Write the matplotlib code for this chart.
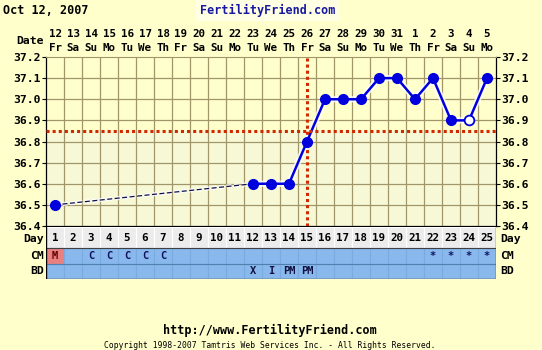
import matplotlib
matplotlib.use("Agg")
import matplotlib.pyplot as plt
import matplotlib.patheffects as pe
import numpy as np

# chart data
days = list(range(1, 26))
dates = [12, 13, 14, 15, 16, 17, 18, 19, 20, 21, 22, 23, 24, 25, 26,
         27, 28, 29, 30, 31, 1, 2, 3, 4, 5]
weekdays = ["Fr", "Sa", "Su", "Mo", "Tu", "We", "Th", "Fr", "Sa", "Su", "Mo", "Tu",
            "We", "Th", "Fr", "Sa", "Su", "Mo", "Tu", "We", "Th", "Fr", "Sa", "Su", "Mo"]
temp_days = [1, 12, 13, 14, 15, 16, 17, 18, 19, 20, 21, 22, 23, 24, 25]
temps = [36.5, 36.6, 36.6, 36.6, 36.8, 37.0, 37.0, 37.0, 37.1, 37.1, 37.0, 37.1,
         36.9, 36.9, 37.1]
open_days = [24]
coverline = 36.85
ovulation_day = 15
cm = ["M", "", "C", "C", "C", "C", "C", "", "", "", "", "", "", "", "", "", "", "",
      "", "", "", "*", "*", "*", "*"]
bd = ["", "", "", "", "", "", "", "", "", "", "", "X", "I", "PM", "PM", "", "", "",
      "", "", "", "", "", "", ""]
yticks = [36.4, 36.5, 36.6, 36.7, 36.8, 36.9, 37.0, 37.1, 37.2]

W, H = 542, 350
BG = "#ffffcc"
GRID = "#a0966a"
BLUE = "#0000dd"
RED = "#d02800"
MONO = "DejaVu Sans Mono"

fig = plt.figure(figsize=(W / 100, H / 100), dpi=100, facecolor=BG)


def fx(px):
    return px / W


def fy(py):
    return 1 - py / H


# temperature panel
L, R, T, B = 46, 496, 57, 226
ax = fig.add_axes([fx(L), fy(B), fx(R - L), (B - T) / H])
ax.set_facecolor(BG)
ax.set_xlim(0.5, 25.5)
ax.set_ylim(36.4, 37.2)
ax.axhspan(36.4, coverline, color="#f7f9d6", zorder=0, lw=0)
for x in np.arange(1.5, 25.5, 1):
    ax.axvline(x, color=GRID, lw=0.9, zorder=1)
for y in yticks[1:-1]:
    ax.axhline(y, color=GRID, lw=0.9, zorder=1)
ax.set_xticks([])
ax.set_yticks(yticks)
ax.set_yticklabels([f"{v:.1f}" for v in yticks])
ax.tick_params(axis="y", length=3, width=0.8, pad=1, labelsize=8.2,
               right=True, labelright=True, direction="out")
for lab in ax.get_yticklabels():
    lab.set_fontfamily(MONO)
    lab.set_fontweight("bold")
for s in ["left", "right", "bottom"]:
    ax.spines[s].set_color("black")
    ax.spines[s].set_linewidth(0.9)
ax.spines["top"].set_color(GRID)

halo = [pe.Stroke(linewidth=4.5, foreground="white", alpha=0.8), pe.Normal()]

# dashed bridge over missing days
ax.plot(temp_days[:2], temps[:2], color="#101050", lw=0.9, dashes=(4, 2),
        zorder=3, path_effects=[pe.Stroke(linewidth=3, foreground="white", alpha=0.8), pe.Normal()])
ax.plot(temp_days[1:], temps[1:], color=BLUE, lw=1.8, zorder=4, path_effects=halo)

ax.axhline(coverline, color=RED, lw=2.2, ls=(0, (1, 1)), zorder=5)
ax.axvline(ovulation_day, color=RED, lw=2.2, ls=(0, (1, 1)), zorder=5)

filled = [(d, t) for d, t in zip(temp_days, temps) if d not in open_days]
hollow = [(d, t) for d, t in zip(temp_days, temps) if d in open_days]
ax.plot([p[0] for p in filled], [p[1] for p in filled], "o", color=BLUE,
        ms=7, zorder=6, clip_on=False)
ax.plot([p[0] for p in hollow], [p[1] for p in hollow], "o", mfc="white",
        mec=BLUE, mew=1.3, ms=7, zorder=6)

# date header
for d, dt, wd in zip(days, dates, weekdays):
    fig.text(fx(L + (d - 0.5) * 18), fy(34), str(dt), ha="center", va="center",
             fontsize=7.8, fontweight="bold", family=MONO)
    fig.text(fx(L + (d - 0.5) * 18), fy(48), wd, ha="center", va="center",
             fontsize=7.8, fontweight="bold", family=MONO)
fig.text(fx(44), fy(41), "Date", ha="right", va="center", fontsize=8.2,
         fontweight="bold", family=MONO)

# lower table
TT, TB = 227, 279
tb = fig.add_axes([fx(L), fy(TB), fx(R - L), (TB - TT) / H])
tb.set_xlim(0.5, 25.5)
tb.set_ylim(52, 0)
tb.axis("off")
rows = [("Day", 0, 21, "#ececec"), ("CM", 21, 15.5, "#88b8ec"), ("BD", 37, 15, "#88b8ec")]
for name, y0, h, col in rows:
    tb.bar(days, h, width=1, bottom=y0, color=col, edgecolor="white" if name == "Day" else "#7aaae0",
           lw=0.8)
    ymid = y0 + h / 2 + (1.5 if name == "Day" else 0)
    fig.text(fx(44), fy(TT + ymid), name, ha="right", va="center", fontsize=8.2,
             fontweight="bold", family=MONO)
    fig.text(fx(500), fy(TT + ymid), name, ha="left", va="center", fontsize=8.2,
             fontweight="bold", family=MONO)
tb.bar([1], 15.5, width=1, bottom=21, color="#e88080", edgecolor="#7aaae0", lw=0.8)
tb.axhline(21, color="#404040", lw=0.8)
tb.axhline(36.8, color="#5080b0", lw=0.8)
tb.axhline(52, color="#404040", lw=1)
tb.axvline(0.5, color="black", lw=1)
tb.axvline(25.5, color="#404040", lw=1)
for d in days:
    tb.text(d, 11, str(d), ha="center", va="center", fontsize=7.8,
            fontweight="bold", family=MONO)
    if cm[d - 1]:
        tb.text(d, 29, cm[d - 1], ha="center", va="center", fontsize=7.5,
                fontweight="bold", family=MONO,
                color="#600000" if cm[d - 1] == "M" else "#101060")
    if bd[d - 1]:
        tb.text(d, 44.5, bd[d - 1], ha="center", va="center", fontsize=7.5,
                fontweight="bold", family=MONO, color="#101040")

# titles
fig.text(fx(3), fy(10), "Oct 12, 2007", ha="left", va="center", fontsize=8.5,
         fontweight="bold", family=MONO)
fig.text(fx(268), fy(10), "FertilityFriend.com", ha="center", va="center",
         fontsize=8.5, fontweight="bold", family=MONO, color="#1818a0",
         bbox=dict(facecolor="#ffffe4", edgecolor="none", pad=3))
fig.text(fx(270), fy(330), "http://www.FertilityFriend.com", ha="center",
         va="center", fontsize=8.5, fontweight="bold", family=MONO)
fig.text(fx(270), fy(345),
         "Copyright 1998-2007 Tamtris Web Services Inc. - All Rights Reserved.",
         ha="center", va="center", fontsize=5.8, family=MONO)

fig.savefig("out.png", dpi=100, facecolor=BG)
